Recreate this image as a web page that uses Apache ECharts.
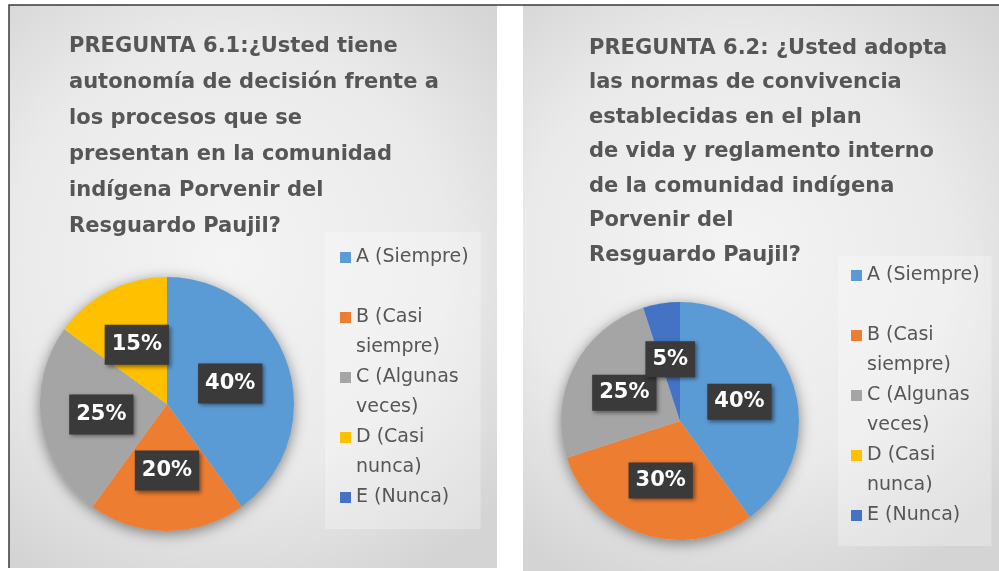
<!DOCTYPE html>
<html>
<head>
<meta charset="utf-8">
<script src="https://cdn.jsdelivr.net/npm/echarts@6/dist/echarts.min.js"></script>
<style>html,body{margin:0;padding:0;background:#fff}#c{width:999px;height:571px}</style>
</head>
<body>
<div id="c"></div>
<script>
// ---- data ----
const categories = ['A (Siempre)', 'B (Casi siempre)', 'C (Algunas veces)', 'D (Casi nunca)', 'E (Nunca)'];
const legendLines = [['A (Siempre)', '\u00a0'], ['B (Casi', 'siempre)'], ['C (Algunas', 'veces)'], ['D (Casi', 'nunca)'], ['E (Nunca)']];
const values61 = [40, 20, 25, 15, 0];
const values62 = [40, 30, 25, 0, 5];
const title61 = ['PREGUNTA 6.1:¿Usted tiene', 'autonomía de decisión frente a', 'los procesos que se', 'presentan en la comunidad', 'indígena Porvenir del', 'Resguardo Paujil?'];
const title62 = ['PREGUNTA 6.2: ¿Usted adopta', 'las normas de convivencia', 'establecidas en el plan', 'de vida y reglamento interno', 'de la comunidad indígena', 'Porvenir del', 'Resguardo Paujil?'];

// ---- styles ----
const colors = ['#5b9bd5', '#ed7d31', '#a5a5a5', '#ffc000', '#4472c4'];
const FONT = 'DejaVu Sans';
const textGray = '#565656';

const chart = echarts.init(document.getElementById('c'), null, {renderer: 'canvas'});

function bg() {
  return new echarts.graphic.RadialGradient(0.45, 0.45, 0.75, [
    {offset: 0, color: '#f4f4f4'},
    {offset: 0.6, color: '#eaeaea'},
    {offset: 1, color: '#d4d4d4'}
  ]);
}

function legendFormatter(name) {
  const lines = legendLines[categories.indexOf(name)];
  return lines.map(l => '{t|' + l + '}').join('\n');
}

function makeLegend(left, top, pad) {
  return {
    orient: 'vertical',
    left: left, top: top,
    padding: pad,
    backgroundColor: 'rgba(255,255,255,0.28)',
    itemWidth: 11, itemHeight: 11,
    itemGap: 11,
    icon: 'rect',
    selectedMode: false,
    data: categories.map((n, i) => ({
      name: n,
      textStyle: legendLines[i].length === 1 ? {padding: [0, 0, 0, 0]} : {}
    })),
    formatter: legendFormatter,
    textStyle: {
      padding: [30, 0, 0, 0],
      rich: {t: {fontFamily: FONT, fontSize: 19, color: textGray, lineHeight: 30}}
    }
  };
}

function makeLabel(pad) {
  return {
    show: true,
    position: 'inside',
    formatter: p => Math.round(p.percent) + '%',
    color: '#ffffff',
    fontFamily: FONT,
    fontWeight: 'bold',
    fontSize: 21,
    backgroundColor: '#3a3a3a',
    padding: pad,
    shadowColor: 'rgba(0,0,0,0.45)',
    shadowBlur: 4,
    shadowOffsetX: 2,
    shadowOffsetY: 2
  };
}

function pieSeries(vals, center, radius, pad) {
  return {
    type: 'pie',
    center: center,
    radius: radius,
    startAngle: 90,
    clockwise: true,
    avoidLabelOverlap: false,
    labelLayout: {hideOverlap: false},
    minShowLabelAngle: 1,
    silent: true,
    label: makeLabel(pad),
    labelLine: {show: false},
    itemStyle: {borderWidth: 0},
    emphasis: {disabled: true},
    data: categories.map((n, i) => ({name: n, value: vals[i], itemStyle: {color: colors[i]}})),
    z: 3
  };
}

function shadowSeries(center, radius) {
  return {
    type: 'pie', center: center, radius: radius, silent: true, z: 2,
    label: {show: false}, labelLine: {show: false},
    emphasis: {disabled: true},
    itemStyle: {color: '#cccccc', shadowColor: 'rgba(0,0,0,0.45)', shadowBlur: 14, shadowOffsetY: 3},
    data: [{name: '__shadow', value: 1}]
  };
}

chart.setOption({
  animation: false,
  textStyle: {fontFamily: FONT},
  title: [
    {text: title61.join('\n'), left: 69, top: 29, padding: 0,
     textStyle: {fontFamily: FONT, fontWeight: 'bold', fontSize: 21, color: textGray, lineHeight: 36}},
    {text: title62.join('\n'), left: 589, top: 31, padding: 0,
     textStyle: {fontFamily: FONT, fontWeight: 'bold', fontSize: 21, color: textGray, lineHeight: 34.5}}
  ],
  legend: [
    makeLegend(325, 232, [16, 12, 22, 15]),
    makeLegend(838, 256, [10, 12, 21, 13])
  ],
  graphic: [
    {type: 'rect', z: -10, shape: {x: 9, y: 5, width: 488, height: 563}, style: {fill: bg()}},
    {type: 'rect', z: -10, shape: {x: 523, y: 5, width: 476, height: 566}, style: {fill: bg()}},
    {type: 'polyline', z: -5, shape: {points: [[9, 568], [9, 5], [999, 5]]}, style: {stroke: '#3a3a3a', lineWidth: 1.5, fill: null}}
  ],
  series: [
    shadowSeries([167, 404], 127),
    pieSeries(values61, [167, 404], 127, [10, 7, 9, 7]),
    shadowSeries([680, 421], 119),
    pieSeries(values62, [680, 421], 119, [8, 7, 7, 7])
  ]
});
</script>
</body>
</html>
